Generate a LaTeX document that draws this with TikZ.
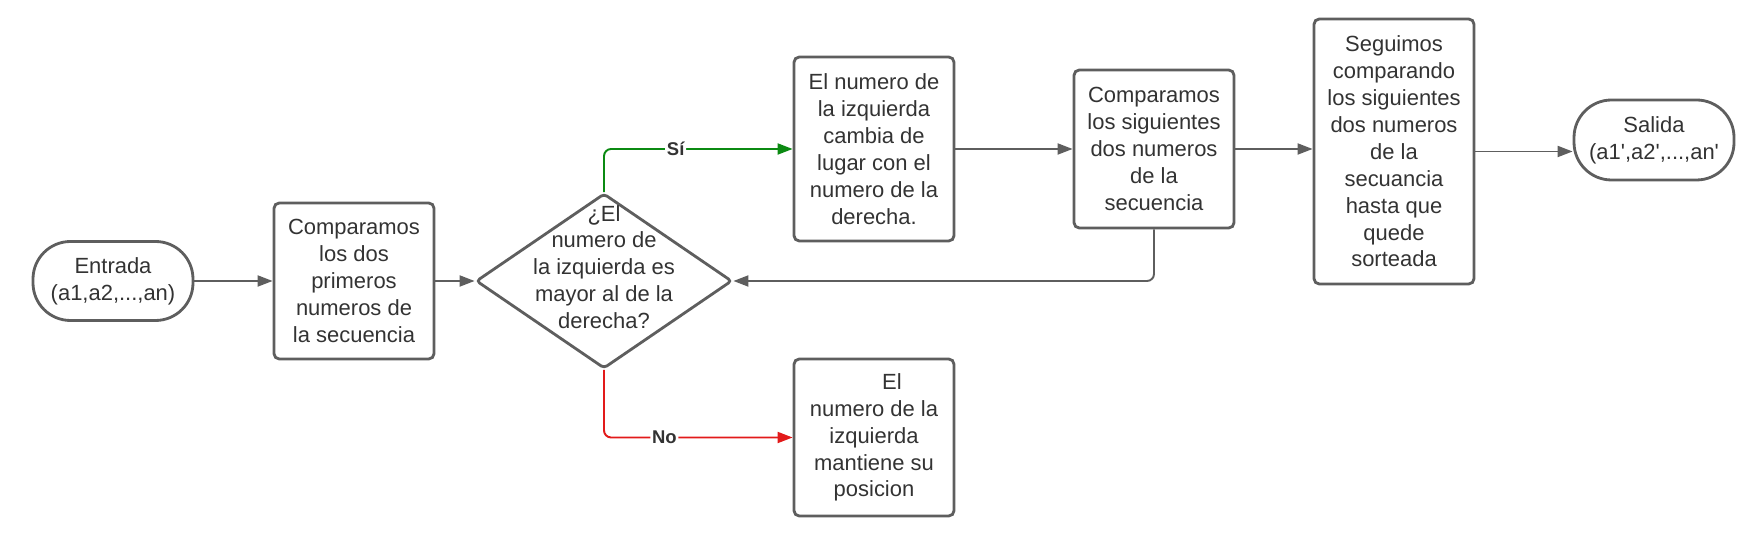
\documentclass[tikz,border=0pt]{standalone}
\usepackage{fontspec}
\setmainfont{Liberation Sans}
\usepackage{xcolor}
\usetikzlibrary{arrows.meta}
\usetikzlibrary{shapes}

\definecolor{linegray}{HTML}{5E5E5E}
\definecolor{textgray}{HTML}{333333}
\definecolor{sigreen}{HTML}{0B8A12}
\definecolor{nored}{HTML}{E21A1A}

\begin{document}
\begin{tikzpicture}[every node/.style={font=\fontsize{12.5}{15.3}\selectfont, text=textgray},
    box/.style={draw=linegray, line width=1.6pt, rounded corners=3pt, align=center, minimum width=3.2cm, inner sep=0pt},
    terminal/.style={draw=linegray, line width=1.6pt, rounded corners=0.75cm, align=center, minimum width=3.2cm, minimum height=1.58cm, inner sep=0pt},
    decision/.style={draw=linegray, line width=1.6pt, diamond, rounded corners=2pt, minimum width=5.12cm, minimum height=3.5cm, inner sep=0pt},
    flow/.style={draw=linegray, line width=1.1pt, rounded corners=4pt, -{Triangle[length=0.3cm,width=0.22cm]}},
    tag/.style={fill=white, inner sep=1pt, font=\fontsize{10.5}{12}\selectfont\bfseries}]

    \useasboundingbox (0,0) rectangle (35.14,10.86);

    %===========================
    % Start and first compare
    %===========================
    \draw node (In) at (2.26,5.24) [terminal]{Entrada\\(a1,a2,...,an)};
    \draw node (Cmp) at (7.08,5.24) [box, minimum height=3.12cm]{Comparamos\\los dos\\primeros\\numeros de\\la secuencia};
    \draw[flow] (In) -- (Cmp);

    \draw node (Q) at (12.08,5.24) [decision, label={[yshift=0.28cm, align=center]center:{¿El\\numero de\\la izquierda es\\mayor al de la\\derecha?}}]{};
    \draw[flow] (Cmp) -- (Q);


    %===========================
    % Branches
    %===========================
    \draw node (Swap) at (17.48,7.88) [box, minimum height=3.68cm]{El numero de\\la izquierda\\cambia de\\lugar con el\\numero de la\\derecha.};
    \draw[flow, draw=sigreen] (Q.north) |- node[tag, pos=0.69]{Sí} (Swap.west);

    \draw node (Stay) at (17.48,2.11) [box, minimum height=3.14cm]{\hspace{0.72cm}El\\numero de la\\izquierda\\mantiene su\\posicion};
    \draw[flow, draw=nored] (Q.south) |- node[tag, pos=0.66]{No} (Stay.west);


    %===========================
    % Loop and end
    %===========================
    \draw node (Next) at (23.08,7.88) [box, minimum height=3.16cm]{Comparamos\\los siguientes\\dos numeros\\de la\\secuencia};
    \draw[flow] (Swap) -- (Next);
    \draw[flow] (Next.south) |- (Q.east);

    \draw node (Keep) at (27.88,7.83) [box, minimum height=5.3cm]{Seguimos\\comparando\\los siguientes\\dos numeros\\de la\\secuancia\\hasta que\\quede\\sorteada};
    \draw[flow] (Next.east) -- (Next.east -| Keep.west);

    \draw node (Out) at (33.08,8.06) [terminal, minimum height=1.6cm]{Salida\\(a1\textquotesingle,a2\textquotesingle,...,an\textquotesingle};
    \draw[flow] (Keep) -- (Keep -| Out.west);
\end{tikzpicture}
\end{document}
